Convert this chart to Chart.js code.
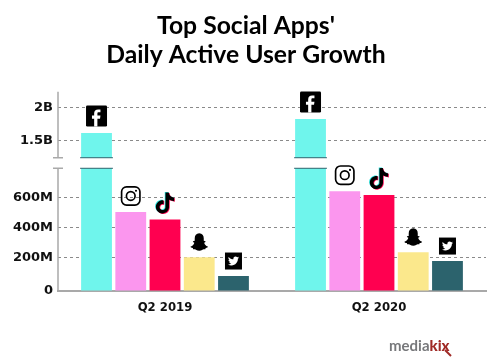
<!DOCTYPE html>
<html>
<head>
<meta charset="utf-8">
<title>Top Social Apps' Daily Active User Growth</title>
<script src="https://cdn.jsdelivr.net/npm/chart.js@4"></script>
<style>
  html, body { margin: 0; padding: 0; background: #fff; }
  canvas { display: block; }
</style>
</head>
<body>
<canvas id="chart" width="500" height="364"></canvas>
<script>
// Data, in millions of daily active users
var quarters = ["Q2 2019", "Q2 2020"];
var apps = ["Facebook", "Instagram", "TikTok", "Snapchat", "Twitter"];
var facebook = [1615, 1825];
var instagram = [505, 645];
var tiktok = [455, 618];
var snapchat = [203, 236];
var twitter = [90, 180];

var tickValues = [0, 200, 400, 600, 1500, 2000];
var tickLabels = ["0", "200M", "400M", "600M", "1.5B", "2B"];

// Axis is drawn unevenly and is cut between 800M and 1.23B
var axisBreak = [800, 1230];
var knotValues = [0, 200, 400, 600, 800, 1230, 1500, 2000, 2230];
var knotFractions = [0, 0.167, 0.318, 0.468, 0.616, 0.669, 0.755, 0.921, 1];

var barColors = ["#6ff5ec", "#fb96ee", "#ff0050", "#fbe88c", "#2c636d"];
var gridColor = "#8a8a8a";
var axisColor = "#a9a9a9";

function interpolate(v, xs, ys) {
    var i = 1;
    while (i < xs.length - 1 && v > xs[i]) i++;
    return ys[i - 1] + (v - xs[i - 1]) / (xs[i] - xs[i - 1]) * (ys[i] - ys[i - 1]);
}

class BrokenScale extends Chart.LinearScale {
    buildTicks() {
        return tickValues.map(function(v) { return { value: v }; });
    }
    getPixelForValue(v) {
        return this.bottom - interpolate(v, knotValues, knotFractions) * (this.bottom - this.top);
    }
    getValueForPixel(p) {
        return interpolate((this.bottom - p) / (this.bottom - this.top), knotFractions, knotValues);
    }
}
BrokenScale.id = "broken";
BrokenScale.defaults = Chart.LinearScale.defaults;
Chart.register(BrokenScale);

// Icons on a 24 x 24 box
var fShape = new Path2D("M16.5 4.5h-2.6c-3 0-4.6 1.7-4.6 4.5v2.5H6.8v3.6h2.5V24h3.7v-8.9h3l.5-3.6H13V9.3c0-1 .3-1.6 1.6-1.6h1.9z");
var noteShape = new Path2D("M12.525.02c1.31-.02 2.61-.01 3.91-.02.08 1.53.63 3.09 1.75 4.17 1.12 1.11 2.7 1.62 4.24 1.79v4.03c-1.44-.05-2.89-.35-4.2-.97-.57-.26-1.1-.59-1.62-.93-.01 2.92.01 5.84-.02 8.75-.08 1.4-.54 2.79-1.35 3.94-1.31 1.92-3.58 3.17-5.91 3.21-1.43.08-2.86-.31-4.08-1.03-2.02-1.19-3.44-3.37-3.65-5.71-.02-.5-.03-1-.01-1.49.18-1.9 1.12-3.72 2.58-4.96 1.66-1.44 3.98-2.13 6.15-1.72.02 1.48-.04 2.96-.04 4.44-.99-.32-2.15-.23-3.02.37-.63.41-1.11 1.04-1.36 1.75-.21.51-.15 1.07-.14 1.61.24 1.64 1.82 3.02 3.5 2.87 1.12-.01 2.19-.66 2.77-1.61.19-.33.4-.67.41-1.06.1-1.79.06-3.57.07-5.36.01-4.03-.01-8.05.02-12.07z");
var ghostShape = new Path2D("M12 0.5C8.3 0.5 6.3 3.2 6.3 7v3.2l-2 .5c-.5.2-.4 1 .3 1.3l1.2.6c-.5 2.2-2.2 4-4.5 4.8-.5.2-.4.8 0 1 .8.4 1.8.6 2.6.8l.4 1.6 2-.1c1.4 0 2.4 2 5.7 2s4.3-2 5.7-2l2 .1.4-1.6c.8-.2 1.8-.4 2.6-.8.4-.2.5-.8 0-1-2.3-.8-4-2.6-4.5-4.8l1.2-.6c.7-.3.8-1.1.3-1.3l-2-.5V7C17.7 3.2 15.7 0.5 12 0.5z");
var birdShape = new Path2D("M23.953 4.57a10 10 0 01-2.825.775 4.958 4.958 0 002.163-2.723c-.951.555-2.005.959-3.127 1.184a4.92 4.92 0 00-8.384 4.482C7.69 8.095 4.067 6.13 1.64 3.162a4.822 4.822 0 00-.666 2.475c0 1.71.87 3.213 2.188 4.096a4.904 4.904 0 01-2.228-.616v.06a4.923 4.923 0 003.946 4.827 4.996 4.996 0 01-2.212.085 4.936 4.936 0 004.604 3.417 9.867 9.867 0 01-6.102 2.105c-.39 0-.779-.023-1.17-.067a13.995 13.995 0 007.557 2.209c9.053 0 13.998-7.496 13.998-13.985 0-.21 0-.42-.015-.63A9.935 9.935 0 0024 4.59z");

function roundBox(ctx, x, y, w, h, r) {
    ctx.beginPath();
    ctx.roundRect(x, y, w, h, r);
}

var iconDraw = {
    Facebook: function(ctx) {
        ctx.fillStyle = "#000";
        roundBox(ctx, 0, 0, 24, 24, 1.5);
        ctx.fill();
        ctx.fillStyle = "#fff";
        ctx.fill(fShape);
    },
    Instagram: function(ctx) {
        ctx.strokeStyle = "#000";
        ctx.lineWidth = 2;
        roundBox(ctx, 1, 1, 22, 22, 6);
        ctx.stroke();
        ctx.beginPath();
        ctx.arc(12, 12, 5.2, 0, Math.PI * 2);
        ctx.stroke();
        ctx.beginPath();
        ctx.arc(18.3, 5.7, 1.3, 0, Math.PI * 2);
        ctx.fillStyle = "#000";
        ctx.fill();
    },
    TikTok: function(ctx) {
        ctx.save();
        ctx.translate(-0.8, -0.6);
        ctx.fillStyle = "#25e6e0";
        ctx.fill(noteShape);
        ctx.translate(1.6, 1.2);
        ctx.fillStyle = "#ff0050";
        ctx.fill(noteShape);
        ctx.translate(-0.8, -0.6);
        ctx.fillStyle = "#000";
        ctx.fill(noteShape);
        ctx.restore();
    },
    Snapchat: function(ctx) {
        ctx.fillStyle = "#000";
        ctx.fill(ghostShape);
    },
    Twitter: function(ctx) {
        ctx.fillStyle = "#000";
        ctx.fillRect(0, 0, 24, 24);
        ctx.save();
        ctx.translate(4.2, 4.2);
        ctx.scale(0.65, 0.65);
        ctx.fillStyle = "#fff";
        ctx.fill(birdShape);
        ctx.restore();
    }
};
var iconSize = { Facebook: 21, Instagram: 20, TikTok: 21, Snapchat: 19, Twitter: 17 };
var iconGap = { Facebook: 6.5, Instagram: 6, TikTok: 6, Snapchat: 5.5, Twitter: 6.5 };

var breakPlugin = {
    id: "axisBreak",
    beforeDatasetsDraw: function(chart) {
        var ctx = chart.ctx, y = chart.scales.y;
        var low = y.getPixelForValue(axisBreak[0]);
        var high = y.getPixelForValue(axisBreak[1]);
        // broken y axis line
        ctx.save();
        ctx.strokeStyle = axisColor;
        ctx.lineWidth = 1.5;
        ctx.beginPath();
        ctx.moveTo(y.right, y.top);
        ctx.lineTo(y.right, high);
        ctx.moveTo(y.right - 5, high);
        ctx.lineTo(y.right + 5, high);
        ctx.moveTo(y.right - 5, low);
        ctx.lineTo(y.right + 5, low);
        ctx.moveTo(y.right, low);
        ctx.lineTo(y.right, y.bottom);
        ctx.stroke();
        ctx.restore();
    },
    afterDatasetsDraw: function(chart) {
        var ctx = chart.ctx, y = chart.scales.y;
        var low = y.getPixelForValue(axisBreak[0]);
        var high = y.getPixelForValue(axisBreak[1]);
        chart.data.datasets.forEach(function(ds, d) {
            chart.getDatasetMeta(d).data.forEach(function(bar) {
                var left = bar.x - bar.width / 2, right = bar.x + bar.width / 2;
                // cut through bars that cross the break
                if (bar.y < high) {
                    ctx.save();
                    ctx.fillStyle = "#fff";
                    ctx.fillRect(left - 1, high, bar.width + 2, low - high);
                    ctx.strokeStyle = barColors[4];
                    ctx.lineWidth = 1;
                    ctx.beginPath();
                    ctx.moveTo(left - 1, high);
                    ctx.lineTo(right + 1, high);
                    ctx.moveTo(left - 1, low);
                    ctx.lineTo(right + 1, low);
                    ctx.stroke();
                    ctx.restore();
                }
                // app icon above the bar
                var s = iconSize[ds.label];
                ctx.save();
                ctx.translate(bar.x - s / 2, bar.y - iconGap[ds.label] - s);
                ctx.scale(s / 24, s / 24);
                iconDraw[ds.label](ctx);
                ctx.restore();
            });
        });
    }
};

var logoPlugin = {
    id: "logo",
    afterDraw: function(chart) {
        var ctx = chart.ctx;
        ctx.save();
        ctx.textBaseline = "alphabetic";
        ctx.font = "bold 15px 'Lato'";
        ctx.fillStyle = "#77787b";
        ctx.fillText("media", 389, 351);
        var w = ctx.measureText("media").width;
        ctx.font = "900 15px 'Lato'";
        ctx.fillStyle = "#a02a26";
        ctx.fillText("kix", 389 + w, 351);
        ctx.strokeStyle = "#a02a26";
        ctx.lineWidth = 2;
        ctx.beginPath();
        ctx.moveTo(445, 350);
        ctx.lineTo(451, 356);
        ctx.stroke();
        ctx.restore();
    }
};

var seriesValues = [facebook, instagram, tiktok, snapchat, twitter];

new Chart(document.getElementById("chart").getContext("2d"), {
    type: "bar",
    data: {
        labels: quarters,
        datasets: apps.map(function(app, i) {
            return { label: app, data: seriesValues[i], backgroundColor: barColors[i] };
        })
    },
    plugins: [breakPlugin, logoPlugin],
    options: {
        responsive: false,
        animation: false,
        layout: { padding: { top: 12, right: 14, bottom: 0, left: 6 } },
        datasets: { bar: { categoryPercentage: 0.8, barPercentage: 0.9 } },
        plugins: {
            legend: { display: false },
            tooltip: { enabled: false },
            title: {
                display: true,
                text: ["Top Social Apps'", "Daily Active User Growth"],
                color: "#000",
                font: { family: "Lato", weight: "bold", size: 24.7, lineHeight: 1.17 },
                padding: { top: 0, bottom: 22 }
            }
        },
        scales: {
            x: {
                grid: { display: false },
                border: { color: axisColor, width: 2 },
                ticks: {
                    color: "#111",
                    padding: 2,
                    font: { family: "DejaVu Sans", weight: "bold", size: 11.7 }
                },
                afterFit: function(scale) { scale.height = 73; }
            },
            y: {
                type: "broken",
                min: 0,
                max: 2230,
                border: { display: false, dash: [3, 3] },
                grid: {
                    drawTicks: false,
                    lineWidth: 1,
                    color: function(c) {
                        return c.tick && c.tick.value === 0 ? "transparent" : gridColor;
                    }
                },
                ticks: {
                    autoSkip: false,
                    color: "#111",
                    padding: 5,
                    font: { family: "DejaVu Sans", weight: "bold", size: 13 },
                    callback: function(v) { return tickLabels[tickValues.indexOf(v)]; }
                },
                afterFit: function(scale) { scale.width = 52; }
            }
        }
    }
});
</script>
</body>
</html>
